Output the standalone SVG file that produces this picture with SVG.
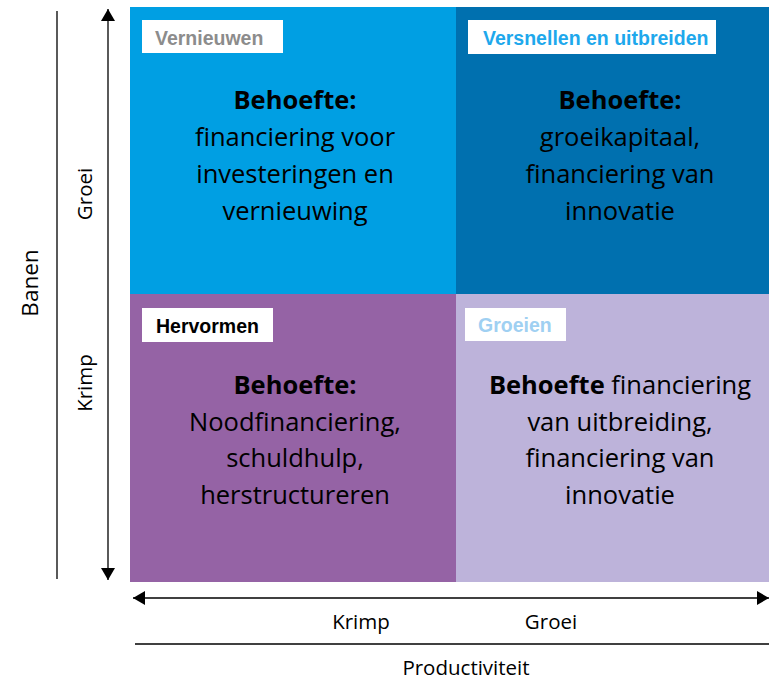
<svg xmlns="http://www.w3.org/2000/svg" width="769" height="680" viewBox="0 0 769 680">
<defs>
<marker id="ah" viewBox="0 0 12 14" refX="12" refY="7" markerWidth="12" markerHeight="14" markerUnits="userSpaceOnUse" orient="auto-start-reverse">
<path d="M0,0 L12,7 L0,14 z" fill="#000"/>
</marker>
<style>
.body{font-family:"Open Sans","Liberation Sans",sans-serif;font-size:25.5px;fill:#000;text-anchor:middle}
.b{font-weight:bold}
.lab{font-family:"Liberation Sans",Arial,sans-serif;font-weight:bold;font-size:19.5px}
.ax{font-family:"Open Sans","Liberation Sans",sans-serif;font-size:20.5px;fill:#000;text-anchor:middle}
.ln{stroke:#000;stroke-width:1.3;fill:none}
</style>
</defs>
<rect width="769" height="680" fill="#fff"/>
<g id="q-vernieuwen">
<rect x="130" y="7" width="326" height="287" fill="#009FE3"/>
<rect x="142" y="20" width="141" height="33" fill="#fff"/>
<text class="lab" x="155" y="45" fill="#8C8C8C">Vernieuwen</text>
<text class="body" x="295" y="109"><tspan class="b">Behoefte:</tspan><tspan x="295" dy="37">financiering voor</tspan><tspan x="295" dy="37">investeringen en</tspan><tspan x="295" dy="37">vernieuwing</tspan></text>
</g>
<g id="q-versnellen">
<rect x="456" y="7" width="313" height="287" fill="#0070AF"/>
<rect x="468" y="20" width="248" height="34" fill="#fff"/>
<text class="lab" x="483" y="45" fill="#1EA8EC">Versnellen en uitbreiden</text>
<text class="body" x="620" y="109"><tspan class="b">Behoefte:</tspan><tspan x="620" dy="37">groeikapitaal,</tspan><tspan x="620" dy="37">financiering van</tspan><tspan x="620" dy="37">innovatie</tspan></text>
</g>
<g id="q-hervormen">
<rect x="130" y="294" width="326" height="288" fill="#9563A5"/>
<rect x="142" y="308" width="131" height="34" fill="#fff"/>
<text class="lab" x="156" y="333" fill="#000">Hervormen</text>
<text class="body" x="295" y="394"><tspan class="b">Behoefte:</tspan><tspan x="295" dy="36.5">Noodfinanciering,</tspan><tspan x="295" dy="36.5">schuldhulp,</tspan><tspan x="295" dy="36.5">herstructureren</tspan></text>
</g>
<g id="q-groeien">
<rect x="456" y="294" width="313" height="288" fill="#BDB3DA"/>
<rect x="465" y="308" width="101" height="33" fill="#fff"/>
<text class="lab" x="478" y="332" fill="#9FD0F2">Groeien</text>
<text class="body" x="620" y="394"><tspan class="b">Behoefte</tspan> financiering<tspan x="620" dy="36.5">van uitbreiding,</tspan><tspan x="620" dy="36.5">financiering van</tspan><tspan x="620" dy="36.5">innovatie</tspan></text>
</g>
<g id="connectors">
<line class="ln" x1="108" y1="9" x2="108" y2="580" marker-start="url(#ah)" marker-end="url(#ah)"/>
<line class="ln" x1="133" y1="598" x2="769" y2="598" marker-start="url(#ah)" marker-end="url(#ah)"/>
<line class="ln" x1="57" y1="11" x2="57" y2="579"/>
<line class="ln" x1="135" y1="644" x2="769" y2="644"/>
</g>
<g id="axis-labels">
<text class="ax" transform="translate(38,283) rotate(-90)" style="font-size:22.5px">Banen</text>
<text class="ax" transform="translate(92,194) rotate(-90)">Groei</text>
<text class="ax" transform="translate(92,383) rotate(-90)">Krimp</text>
<text class="ax" x="361" y="629">Krimp</text>
<text class="ax" x="551" y="629">Groei</text>
<text class="ax" x="466" y="675">Productiviteit</text>
</g>
</svg>
